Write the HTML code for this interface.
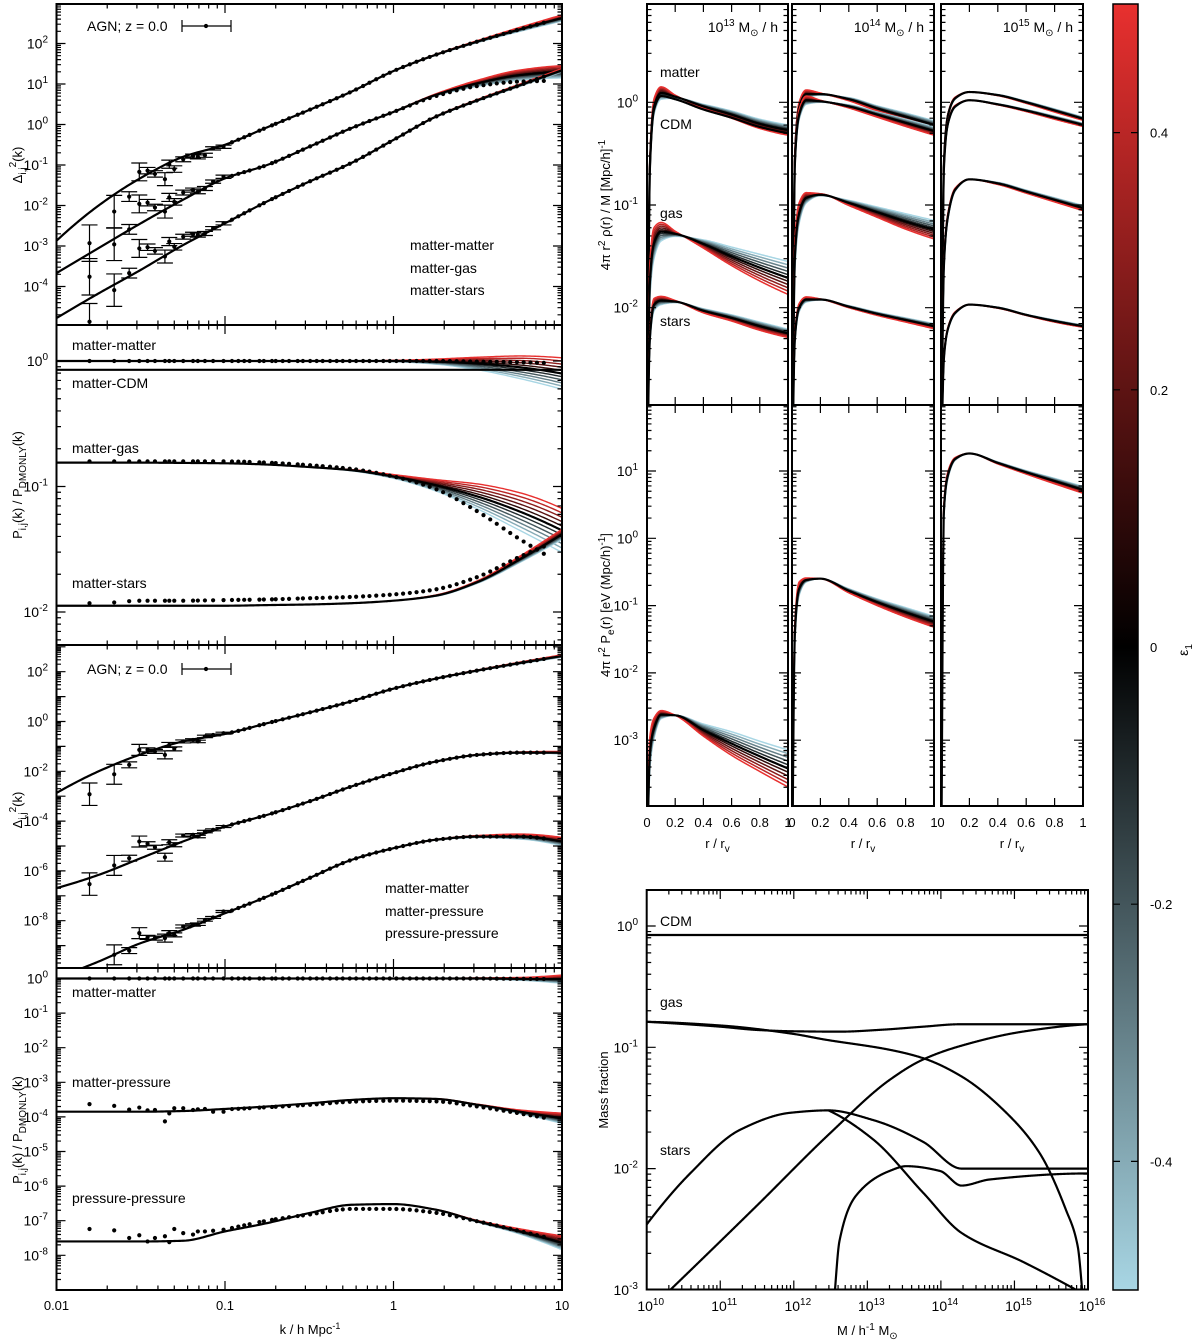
<!DOCTYPE html>
<html><head><meta charset="utf-8"><title>Halo model response</title>
<style>
html,body{margin:0;padding:0;background:#fff;}
svg{display:block;font-family:"Liberation Sans",Arial,sans-serif;}
</style></head>
<body>
<svg id="chart" xmlns="http://www.w3.org/2000/svg" width="1200" height="1340" viewBox="0 0 1200 1340">
<defs>
<linearGradient id="cbgrad" x1="0" y1="0" x2="0" y2="1">
<stop offset="0" stop-color="#e8302f"/><stop offset="0.5" stop-color="#000"/><stop offset="1" stop-color="#a8d6e4"/>
</linearGradient>
</defs>
</svg>
<script>
// ---------------- DATA ----------------
const eps = [-0.5,-0.4,-0.3,-0.2,-0.1,0.1,0.2,0.3,0.4,0.5];
const kGrid = [-2,-1.75,-1.5,-1.25,-1,-0.75,-0.5,-0.25,0,0.25,0.5,0.75,1];
// panel 1: log10 Delta^2
const mm1 = [-2.87,-2.0,-1.32,-0.80,-0.5,-0.07,0.36,0.81,1.32,1.72,2.05,2.35,2.63];
const mm1S = [0,0,0,0,0,0,0,0,0,0.02,0.05,0.1,0.15];
const mg1 = [-3.67,-3.05,-2.44,-1.86,-1.33,-1.0,-0.55,-0.09,0.31,0.73,1.02,1.22,1.3];
const mg1S = [0,0,0,0,0,0,0,0,0.01,0.05,0.15,0.25,0.3];
const mg1Dots = [-3.67,-3.05,-2.44,-1.86,-1.33,-1.0,-0.55,-0.09,0.31,0.70,0.95,1.06,1.08];
const ms1 = [-4.78,-4.17,-3.59,-2.98,-2.44,-1.9,-1.41,-0.95,-0.38,0.19,0.6,0.97,1.34];
const ms1S = [0,0,0,0,0,0,0,0,0,0.02,0.04,0.06,0.08];
// panel 2: log10 ratio
const rmm2 = [0,0,0,0,0,0,0,0,0,-0.005,-0.02,-0.05,-0.1];
const rmm2S = [0,0,0,0,0,0,0,0,0.01,0.04,0.1,0.18,0.25];
const rcdm2 = [-0.07,-0.07,-0.07,-0.07,-0.07,-0.07,-0.07,-0.07,-0.07,-0.07,-0.07,-0.07,-0.07];
const rgas2 = [-0.81,-0.81,-0.81,-0.812,-0.815,-0.825,-0.845,-0.87,-0.92,-0.99,-1.08,-1.2,-1.35];
const rgas2S = [0,0,0,0,0,0,0,0.01,0.03,0.09,0.2,0.3,0.35];
const rgas2Dots = [-0.80,-0.80,-0.80,-0.80,-0.80,-0.81,-0.83,-0.86,-0.92,-1.02,-1.2,-1.42,-1.62];
const rst2 = [-1.95,-1.95,-1.95,-1.95,-1.95,-1.945,-1.94,-1.93,-1.91,-1.87,-1.76,-1.58,-1.38];
const rst2S = [0,0,0,0,0,0,0,0,0,0.01,0.02,0.05,0.08];
const rst2Dots = [-1.93,-1.93,-1.91,-1.91,-1.905,-1.9,-1.89,-1.88,-1.86,-1.82,-1.72,-1.56,-1.42];
const rmm2Dots = [0,0,0,0,0,0,0,0,0,0,-0.005,-0.01,-0.02];
// panel 3
const mm3 = [-2.87,-2.0,-1.32,-0.80,-0.5,-0.07,0.36,0.81,1.32,1.72,2.05,2.35,2.63];
const mm3S = [0,0,0,0,0,0,0,0,0,0.02,0.04,0.07,0.1];
const mp3 = [-6.69,-6.16,-5.49,-4.82,-4.22,-3.75,-3.21,-2.61,-2.07,-1.61,-1.34,-1.25,-1.25];
const mp3S = [0,0,0,0,0,0,0,0,0,0.01,0.02,0.05,0.1];
const pp3 = [-10.3,-9.64,-8.9,-8.37,-7.7,-7.03,-6.29,-5.56,-5.09,-4.75,-4.62,-4.62,-4.82];
const pp3S = [0,0,0,0,0,0,0,0,0,0.02,0.08,0.2,0.33];
// panel 4
const rmm4 = [0,0,0,0,0,0,0,0,0,0,0,-0.01,-0.02];
const rmm4S = [0,0,0,0,0,0,0,0,0,0.01,0.03,0.08,0.24];
const rmp4 = [-3.85,-3.85,-3.85,-3.83,-3.77,-3.70,-3.61,-3.51,-3.46,-3.48,-3.65,-3.85,-4.04];
const rmp4S = [0,0,0,0,0,0,0,0,0,0.01,0.03,0.1,0.3];
const rmp4Dots = [-3.75,-3.78,-3.8,-3.8,-3.78,-3.72,-3.65,-3.56,-3.53,-3.55,-3.7,-3.9,-4.12];
const rpp4 = [-7.6,-7.6,-7.6,-7.58,-7.31,-7.07,-6.78,-6.54,-6.52,-6.68,-7.02,-7.31,-7.64];
const rpp4S = [0,0,0,0,0,0,0,0,0,0.01,0.05,0.15,0.4];
const rpp4Dots = [-7.3,-7.35,-7.4,-7.45,-7.25,-7.0,-6.82,-6.66,-6.66,-6.77,-7.02,-7.3,-7.6];
// measured points (low k) with scatter
const lowK = [0.0157,0.022,0.027,0.031,0.0347,0.0384,0.044,0.0467,0.05,0.0565,0.0646,0.069,0.076,0.085,0.098];
const lowErr = [0.45,0.4,0.12,0.22,0.08,0.08,0.16,0.1,0.08,0.06,0.05,0.05,0.05,0.04,0.04];
const mm1Low = [-2.93,-2.15,-1.78,-1.17,-1.14,-1.22,-1.35,-0.98,-1.10,-0.86,-0.78,-0.80,-0.76,-0.59,-0.55];
const mg1Low = [-3.76,-2.96,-2.59,-1.96,-1.93,-2.05,-2.15,-1.80,-1.91,-1.68,-1.62,-1.66,-1.58,-1.41,-1.29];
const ms1Low = [-4.87,-4.09,-3.67,-3.06,-3.03,-3.12,-3.26,-2.89,-3.02,-2.77,-2.71,-2.73,-2.69,-2.56,-2.44];
const mm3Low = [-2.92,-2.12,-1.74,-1.14,-1.14,-1.2,-1.34,-0.94,-1.10,-0.80,-0.74,-0.80,-0.60,-0.54,-0.47];
const mp3Low = [-6.53,-5.78,-5.49,-4.82,-4.91,-5.05,-5.45,-4.85,-4.95,-4.58,-4.55,-4.62,-4.42,-4.35,-4.22];
const pp3Low = [-10.5,-9.37,-9.2,-8.5,-8.67,-8.7,-8.7,-8.5,-8.57,-8.23,-8.17,-8.14,-7.97,-7.87,-7.63];
const mp4Low = [-3.63,-3.68,-3.79,-3.73,-3.81,-3.8,-4.13,-3.9,-3.75,-3.75,-3.80,-3.78,-3.77,-3.85,-3.85];
const pp4Low = [-7.24,-7.28,-7.5,-7.42,-7.6,-7.5,-7.45,-7.62,-7.24,-7.36,-7.4,-7.31,-7.31,-7.29,-7.26];
const denseK = [0.11,0.12,0.13,0.14,0.16,0.17,0.19,0.2,0.22,0.24,0.27,0.29,0.32,0.35,0.38,0.42,0.46,0.5,0.55,0.6,0.66,0.72,0.79,0.87,0.95,1.04,1.14,1.25,1.37,1.5,1.64,1.8,1.97,2.16,2.37,2.6,2.85,3.12,3.42,3.75,4.1,4.5,4.93,5.4,5.92,6.5,7.1,7.8];
// profiles
const rGrid = [0.003,0.02,0.05,0.1,0.2,0.4,0.6,0.8,1.0];
const matterA = [-3.3,-0.63,-0.04,0.09,0.055,-0.04,-0.12,-0.21,-0.27];
const matterAS = [0.1,0.15,0.15,0.12,0.03,-0.04,-0.07,-0.09,-0.1];
const cdmA = [-3.3,-0.66,-0.07,0.06,0.03,-0.07,-0.15,-0.24,-0.3];
const gasA = [-3.5,-1.75,-1.37,-1.26,-1.28,-1.38,-1.5,-1.61,-1.71];
const gasAS = [0.3,0.35,0.3,0.18,0.05,-0.08,-0.18,-0.26,-0.32];
const starsA = [-3.5,-2.3,-1.97,-1.93,-1.94,-2.03,-2.1,-2.18,-2.25];
const starsAS = [0.1,0.12,0.12,0.08,0.02,-0.04,-0.06,-0.08,-0.08];
const matterB = [-3.3,-0.55,-0.05,0.08,0.08,0.03,-0.06,-0.14,-0.22];
const matterBS = [0.1,0.12,0.1,0.08,0.02,-0.03,-0.05,-0.07,-0.08];
const cdmB = [-3.3,-0.6,-0.12,0.02,0.01,-0.04,-0.12,-0.2,-0.28];
const gasB = [-3.5,-1.5,-1.08,-0.93,-0.9,-0.98,-1.07,-1.16,-1.24];
const gasBS = [0.3,0.3,0.2,0.1,0.02,-0.05,-0.1,-0.15,-0.18];
const starsB = [-3.5,-2.3,-2.0,-1.92,-1.92,-1.99,-2.06,-2.12,-2.18];
const starsBS = [0.1,0.1,0.08,0.05,0.01,-0.02,-0.03,-0.04,-0.05];
const matterC = [-3.3,-0.6,-0.12,0.04,0.1,0.07,0.0,-0.08,-0.16];
const matterCS = [0.05,0.05,0.03,0.02,0,-0.01,-0.02,-0.03,-0.03];
const cdmC = [-3.3,-0.65,-0.2,-0.04,0.02,-0.02,-0.08,-0.15,-0.22];
const gasC = [-3.5,-1.6,-1.1,-0.85,-0.75,-0.79,-0.87,-0.95,-1.03];
const gasCS = [0.1,0.1,0.06,0.03,0,-0.02,-0.03,-0.04,-0.05];
const starsC = [-3.5,-2.5,-2.2,-2.05,-1.97,-2.0,-2.07,-2.13,-2.18];
const starsCS = [0.05,0.04,0.03,0.02,0,-0.01,-0.01,-0.02,-0.02];
const presA = [-4.6,-3.2,-2.82,-2.62,-2.63,-2.85,-3.05,-3.24,-3.42];
const presAS = [0.6,0.5,0.3,0.12,0,-0.18,-0.35,-0.45,-0.55];
const presB = [-4.6,-1.4,-0.75,-0.62,-0.6,-0.78,-0.95,-1.1,-1.24];
const presBS = [0.4,0.3,0.2,0.06,0,-0.06,-0.1,-0.14,-0.16];
const presC = [-4.6,0.4,0.95,1.18,1.26,1.12,0.98,0.85,0.72];
const presCS = [0.3,0.2,0.1,0.04,0,-0.03,-0.05,-0.08,-0.1];
// mass fractions (log10 M, log10 f)
const cdmFracM = [10,16], cdmFrac = [-0.074,-0.074];
const gasBoundM = [10,11,11.5,12,12.63,13.2,13.76,14.26,16];
const gasBound = [-0.79,-0.83,-0.857,-0.868,-0.871,-0.855,-0.83,-0.81,-0.81];
const gasHotM = [10,11,12,12.4,13.3,13.76,14.28,14.89,15.34,15.7,15.86,15.92];
const gasHot = [-0.79,-0.82,-0.89,-0.934,-1.02,-1.09,-1.24,-1.54,-1.87,-2.34,-2.64,-3.0];
const gasEjM = [10.32,11.49,12.49,13.3,13.76,14.26,15.12,16];
const gasEj = [-3.0,-2.31,-1.71,-1.27,-1.10,-0.99,-0.87,-0.81];
const starTotM = [10,10.59,11.27,11.95,12.47,13.08,13.76,14.28,16];
const starTot = [-2.46,-2.04,-1.68,-1.54,-1.52,-1.60,-1.78,-2.0,-2.0];
const starCenM = [12.47,13.08,13.76,14.28,15.12,15.84];
const starCen = [-1.52,-1.76,-2.2,-2.53,-2.77,-3.0];
const starSatM = [12.56,12.62,12.85,13.3,13.53,13.99,14.28,14.66,16];
const starSat = [-3.0,-2.6,-2.22,-2.02,-1.98,-2.02,-2.14,-2.09,-2.04];
const cbTicks = [0.4,0.2,0,-0.2,-0.4];

// ---------------- HELPERS ----------------
const NS='http://www.w3.org/2000/svg';
const svg=document.getElementById('chart');
function mk(tag, attrs, parent){const e=document.createElementNS(NS,tag);for(const k in attrs)e.setAttribute(k,attrs[k]);(parent||svg).appendChild(e);return e;}
function mono(xs, ys){
  const n=xs.length,d=[],h=[],m=new Array(n);
  for(let i=0;i<n-1;i++){h[i]=xs[i+1]-xs[i];d[i]=(ys[i+1]-ys[i])/h[i];}
  if(n===2){m[0]=d[0];m[1]=d[0];}
  else{
    for(let i=1;i<n-1;i++){
      if(d[i-1]*d[i]<=0)m[i]=0;
      else{const w1=2*h[i]+h[i-1],w2=h[i]+2*h[i-1];m[i]=(w1+w2)/(w1/d[i-1]+w2/d[i]);}
    }
    const e0=((2*h[0]+h[1])*d[0]-h[0]*d[1])/(h[0]+h[1]);
    m[0]=(Math.sign(e0)!==Math.sign(d[0]))?0:(Math.abs(e0)>3*Math.abs(d[0])?3*d[0]:e0);
    const k=n-2;
    const e1=((2*h[k]+h[k-1])*d[k]-h[k]*d[k-1])/(h[k]+h[k-1]);
    m[n-1]=(Math.sign(e1)!==Math.sign(d[k]))?0:(Math.abs(e1)>3*Math.abs(d[k])?3*d[k]:e1);
  }
  return function(x){
    let i=0; if(x<=xs[0])i=0; else if(x>=xs[n-1])i=n-2; else while(x>xs[i+1])i++;
    const hh=xs[i+1]-xs[i],t=(x-xs[i])/hh,t2=t*t,t3=t2*t;
    return (2*t3-3*t2+1)*ys[i]+(t3-2*t2+t)*hh*m[i]+(-2*t3+3*t2)*ys[i+1]+(t3-t2)*hh*m[i+1];
  };
}
function col(e){
  if(e>=0){const t=e/0.5;return `rgb(${Math.round(232*t)},${Math.round(48*t)},${Math.round(47*t)})`;}
  const t=-e/0.5;return `rgb(${Math.round(168*t)},${Math.round(214*t)},${Math.round(228*t)})`;
}
function supLabel(parent,x,y,exp,anchor,size){
  const t=mk('text',{x:x,y:y,'text-anchor':anchor,'font-size':size||14,fill:'#000'},parent);
  
  
  t.appendChild(document.createTextNode('10'));
  const s=mk('tspan',{dy:-6,'font-size':10},t);
  s.textContent=String(exp);
  return t;
}
let clipId=0;
function makeClip(x0,y0,x1,y1){
  const id='clip'+(clipId++);
  const cp=mk('clipPath',{id:id},svg.querySelector('defs'));
  mk('rect',{x:x0,y:y0,width:x1-x0,height:y1-y0},cp);
  return id;
}
function linePath(pts){return pts.map((p,i)=>(i?'L':'M')+p[0].toFixed(2)+','+p[1].toFixed(2)).join('');}
function logTicksY(g,x0,x1,yOf,lmin,lmax){
  for(let d=Math.floor(lmin)-1;d<=Math.ceil(lmax);d++){
    for(let m=1;m<=9;m++){
      const v=d+Math.log10(m); if(v<lmin||v>lmax)continue;
      const y=yOf(v),L=(m===1)?9:4.5;
      const t=mk('path',{d:`M${x0},${y}h${L}M${x1},${y}h${-L}`,stroke:'#000','stroke-width':1.2},g);
      
      
    }
  }
}
function logTicksX(g,y0,y1,xOf,lmin,lmax){
  for(let d=Math.floor(lmin);d<=Math.ceil(lmax);d++){
    for(let m=1;m<=9;m++){
      const v=d+Math.log10(m); if(v<lmin-1e-9||v>lmax+1e-9)continue;
      const x=xOf(v),L=(m===1)?9:4.5;
      const t=mk('path',{d:`M${x},${y0}v${L}M${x},${y1}v${-L}`,stroke:'#000','stroke-width':1.2},g);
      
      
    }
  }
}
function frame(g,x0,y0,x1,y1,name){
  const r=mk('rect',{x:x0,y:y0,width:x1-x0,height:y1-y0,fill:'none',stroke:'#000','stroke-width':2},g);
  
  
}
function label(parent,x,y,txt,size,anchor,name){
  const t=mk('text',{x:x,y:y,'font-size':size||14,'text-anchor':anchor||'start',fill:'#000'},parent);
  
  
  t.textContent=txt; return t;
}

// ---------------- LEFT COLUMN ----------------
const LX0=56.5, LX1=562;
const xK = lk => LX0+(lk+2)*168.5;
const left = [
 {name:'delta-panel-1',top:4,bot:325,y0:124.5,ppd:40.5,exps:[2,1,0,-1,-2,-3,-4]},
 {name:'ratio-panel-1',top:325,bot:645,y0:361,ppd:125.5,exps:[0,-1,-2]},
 {name:'delta-panel-2',top:645,bot:968,y0:721.5,ppd:24.9,exps:[2,0,-2,-4,-6,-8]},
 {name:'ratio-panel-2',top:968,bot:1290,y0:978.5,ppd:34.6,exps:[0,-1,-2,-3,-4,-5,-6,-7,-8]}
];
left.forEach(P=>{
  P.yOf = v => P.y0 - v*P.ppd;
  P.lmax=(P.y0-P.top)/P.ppd; P.lmin=(P.y0-P.bot)/P.ppd;
  P.g=mk('g',{});
  
  
  P.clip=makeClip(LX0,P.top,LX1,P.bot);
  P.plot=mk('g',{'clip-path':`url(#${P.clip})`},P.g);
  
  
});
const kSamples=[]; for(let v=-2;v<=1.0001;v+=0.01)kSamples.push(v);
function familyK(P,black,spread,name){
  const g=mk('g',{},P.plot);
  
  
  eps.forEach(e=>{
    const f=mono(kGrid,black.map((v,i)=>v+e*spread[i]));
    const p=mk('path',{d:linePath(kSamples.map(l=>[xK(l),P.yOf(f(l))])),fill:'none',stroke:col(e),'stroke-width':1.4},g);
    
    
  });
  const f=mono(kGrid,black);
  const p=mk('path',{d:linePath(kSamples.map(l=>[xK(l),P.yOf(f(l))])),fill:'none',stroke:'#000','stroke-width':2.2},g);
  
  
}
function dots(P,vals,name,low,err){
  const g=mk('g',{},P.plot);
  
  
  const f=mono(kGrid,vals);
  const put=(k,v,e)=>{
    const x=xK(Math.log10(k)),y=P.yOf(v);
    if(e){
      const ya=P.yOf(v+e),yb=P.yOf(v-e);
      const b=mk('path',{d:`M${x},${ya}V${yb}M${x-8},${ya}h16M${x-8},${yb}h16`,stroke:'#000','stroke-width':1.2,fill:'none'},g);
      
      
    }
    const c=mk('circle',{cx:x,cy:y,r:2.1,fill:'#000'},g);
    
    
  };
  lowK.forEach((k,i)=>put(k, low?low[i]:f(Math.log10(k)), err?err[i]:0));
  denseK.forEach(k=>put(k,f(Math.log10(k)),0));
}
// panel 1
familyK(left[0],mm1,mm1S,'matter-matter');
familyK(left[0],mg1,mg1S,'matter-gas');
familyK(left[0],ms1,ms1S,'matter-stars');
dots(left[0],mm1,'matter-matter',mm1Low,lowErr);
dots(left[0],mg1Dots,'matter-gas',mg1Low,lowErr);
dots(left[0],ms1,'matter-stars',ms1Low,lowErr);
// panel 2
familyK(left[1],rmm2,rmm2S,'matter-matter-ratio');
familyK(left[1],rcdm2,rcdm2.map(()=>0),'matter-cdm-ratio');
familyK(left[1],rgas2,rgas2S,'matter-gas-ratio');
familyK(left[1],rst2,rst2S,'matter-stars-ratio');
dots(left[1],rmm2Dots,'matter-matter-ratio');
dots(left[1],rgas2Dots,'matter-gas-ratio');
dots(left[1],rst2Dots,'matter-stars-ratio');
// panel 3
familyK(left[2],mm3,mm3S,'matter-matter');
familyK(left[2],mp3,mp3S,'matter-pressure');
familyK(left[2],pp3,pp3S,'pressure-pressure');
dots(left[2],mm3,'matter-matter',mm3Low,lowErr);
dots(left[2],mp3,'matter-pressure',mp3Low,lowErr);
dots(left[2],pp3,'pressure-pressure',pp3Low,lowErr);
// panel 4
familyK(left[3],rmm4,rmm4S,'matter-matter-ratio');
familyK(left[3],rmp4,rmp4S,'matter-pressure-ratio');
familyK(left[3],rpp4,rpp4S,'pressure-pressure-ratio');
dots(left[3],rmm4,'matter-matter-ratio');
dots(left[3],rmp4Dots,'matter-pressure-ratio',mp4Low);
dots(left[3],rpp4Dots,'pressure-pressure-ratio',pp4Low);
// axes
left.forEach(P=>{
  logTicksY(P.g,LX0,LX1,P.yOf,P.lmin,P.lmax);
  logTicksX(P.g,P.top,P.bot,xK,-2,1);
  frame(P.g,LX0,P.top,LX1,P.bot,'panel-frame');
  P.exps.forEach(e=>supLabel(P.g,48,P.yOf(e)+5,e,'end'));
});
[['0.01',-2],['0.1',-1],['1',0],['10',1]].forEach(([t,v])=>label(svg,xK(v),1310,t,13,'middle','x-tick-label'));
{
  const t=label(svg,310,1334,'k / h Mpc',13,'middle','x-axis-title');
  const s=mk('tspan',{dy:-5,'font-size':9},t); s.textContent='-1';
}
function deltaTitle(y){
  const t=mk('text',{transform:`translate(22,${y}) rotate(-90)`,'text-anchor':'middle','font-size':13});
  
  
  t.appendChild(document.createTextNode('Δ'));
  const a=mk('tspan',{dy:4,'font-size':10},t);a.textContent='i,j';
  const b=mk('tspan',{dy:-10,'font-size':10},t);b.textContent='2';
  const c=mk('tspan',{dy:6},t);c.textContent='(k)';
}
function ratioTitle(y){
  const t=mk('text',{transform:`translate(22,${y}) rotate(-90)`,'text-anchor':'middle','font-size':13});
  
  
  t.appendChild(document.createTextNode('P'));
  const a=mk('tspan',{dy:4,'font-size':10},t);a.textContent='i,j';
  const b=mk('tspan',{dy:-4},t);b.textContent='(k) / P';
  const c=mk('tspan',{dy:4,'font-size':10},t);c.textContent='DMONLY';
  const d=mk('tspan',{dy:-4},t);d.textContent='(k)';
}
deltaTitle(165); ratioTitle(485); deltaTitle(810); ratioTitle(1130);
function agnLegend(y){
  const g=mk('g',{});
  
  
  label(g,87,y+5,'AGN; z = 0.0',14,'start','legend-label');
  const p=mk('path',{d:`M182,${y}H231M182,${y-6}v12M231,${y-6}v12`,stroke:'#000','stroke-width':1.2},g);
  
  
  const c=mk('circle',{cx:206,cy:y,r:2.1},g);
  
  
}
agnLegend(26); agnLegend(669);
label(svg,410,250,'matter-matter',14,'start','series-label');
label(svg,410,273,'matter-gas',14,'start','series-label');
label(svg,410,295,'matter-stars',14,'start','series-label');
label(svg,72,350,'matter-matter',14,'start','series-label');
label(svg,72,388,'matter-CDM',14,'start','series-label');
label(svg,72,453,'matter-gas',14,'start','series-label');
label(svg,72,588,'matter-stars',14,'start','series-label');
label(svg,385,893,'matter-matter',14,'start','series-label');
label(svg,385,916,'matter-pressure',14,'start','series-label');
label(svg,385,938,'pressure-pressure',14,'start','series-label');
label(svg,72,997,'matter-matter',14,'start','series-label');
label(svg,72,1087,'matter-pressure',14,'start','series-label');
label(svg,72,1203,'pressure-pressure',14,'start','series-label');

// ---------------- RIGHT PROFILE PANELS ----------------
const cols=[[647,788],[792,934],[941,1083]];
const upper={top:4,bot:405,yOf:v=>102.3-102.7*v,exps:[0,-1,-2]};
const lower={top:405,bot:806,yOf:v=>538.3-67.3*v,exps:[1,0,-1,-2,-3]};
[upper,lower].forEach(R=>{R.lmax=(R===upper?(102.3-R.top)/102.7:(538.3-R.top)/67.3);R.lmin=(R===upper?(102.3-R.bot)/102.7:(538.3-R.bot)/67.3);});
const rSamples=[]; for(let r=0.003;r<=1.0001;r+=0.004)rSamples.push(r);
function familyR(R,c,black,spread,name){
  const [x0,x1]=c, g=R.plots[cols.indexOf(c)];
  const xr=r=>x0+r*(x1-x0);
  const gg=mk('g',{},g);
  
  
  if(spread) eps.forEach(e=>{
    const f=mono(rGrid,black.map((v,i)=>v+e*spread[i]));
    const p=mk('path',{d:linePath(rSamples.map(r=>[xr(r),R.yOf(f(r))])),fill:'none',stroke:col(e),'stroke-width':1.5},gg);
    
    
  });
  const f=mono(rGrid,black);
  const p=mk('path',{d:linePath(rSamples.map(r=>[xr(r),R.yOf(f(r))])),fill:'none',stroke:'#000','stroke-width':2.2},gg);
  
  
}
[upper,lower].forEach((R,ri)=>{
  R.plots=cols.map((c,ci)=>{
    const id=makeClip(c[0],R.top,c[1],R.bot);
    const g=mk('g',{'clip-path':`url(#${id})`});
    
    
    return g;
  });
});
familyR(upper,cols[0],matterA,matterAS,'matter');
familyR(upper,cols[0],cdmA,null,'cdm');
familyR(upper,cols[0],gasA,gasAS,'gas');
familyR(upper,cols[0],starsA,starsAS,'stars');
familyR(upper,cols[1],matterB,matterBS,'matter');
familyR(upper,cols[1],cdmB,matterBS,'cdm');
familyR(upper,cols[1],gasB,gasBS,'gas');
familyR(upper,cols[1],starsB,starsBS,'stars');
familyR(upper,cols[2],matterC,matterCS,'matter');
familyR(upper,cols[2],cdmC,matterCS,'cdm');
familyR(upper,cols[2],gasC,gasCS,'gas');
familyR(upper,cols[2],starsC,starsCS,'stars');
familyR(lower,cols[0],presA,presAS,'pressure');
familyR(lower,cols[1],presB,presBS,'pressure');
familyR(lower,cols[2],presC,presCS,'pressure');
[upper,lower].forEach(R=>{
  const g=mk('g',{});
  
  
  cols.forEach(([x0,x1])=>{
    logTicksY(g,x0,x1,R.yOf,R.lmin,R.lmax);
    for(let r=0;r<=1.0001;r+=0.2){
      const x=x0+r*(x1-x0);
      const t=mk('path',{d:`M${x},${R.top}v8M${x},${R.bot}v-8`,stroke:'#000','stroke-width':1.2},g);
      
      
    }
    frame(g,x0,R.top,x1,R.bot,'panel-frame');
  });
  R.exps.forEach(e=>supLabel(g,638,R.yOf(e)+5,e,'end'));
});
cols.forEach(([x0,x1])=>{
  ['0','0.2','0.4','0.6','0.8','1'].forEach((t,i)=>label(svg,x0+i*0.2*(x1-x0),827,t,13,'middle','x-tick-label'));
  const t=label(svg,(x0+x1)/2,848,'r / r',13,'middle','x-axis-title');
  const s=mk('tspan',{dy:4,'font-size':10},t);s.textContent='v';
});
[['13',cols[0]],['14',cols[1]],['15',cols[2]]].forEach(([e,c])=>{
  const t=mk('text',{x:c[1]-10,y:32,'text-anchor':'end','font-size':14});
  
  
  t.appendChild(document.createTextNode('10'));
  const a=mk('tspan',{dy:-6,'font-size':10},t);a.textContent=e;
  const b=mk('tspan',{dy:6},t);b.textContent=' M';
  const d=mk('tspan',{dy:4,'font-size':10},t);d.textContent='⊙';
  const f=mk('tspan',{dy:-4},t);f.textContent=' / h';
});
label(svg,660,77,'matter',14,'start','series-label');
label(svg,660,129,'CDM',14,'start','series-label');
label(svg,660,218,'gas',14,'start','series-label');
label(svg,660,326,'stars',14,'start','series-label');
{
  const t=mk('text',{transform:'translate(610,205) rotate(-90)','text-anchor':'middle','font-size':13});
  
  
  t.appendChild(document.createTextNode('4π r'));
  const a=mk('tspan',{dy:-5,'font-size':10},t);a.textContent='2';
  const b=mk('tspan',{dy:5},t);b.textContent=' ρ(r) / M [Mpc/h]';
  const c=mk('tspan',{dy:-5,'font-size':10},t);c.textContent='-1';
  const t2=mk('text',{transform:'translate(610,605) rotate(-90)','text-anchor':'middle','font-size':13});
  
  
  t2.appendChild(document.createTextNode('4π r'));
  const d=mk('tspan',{dy:-5,'font-size':10},t2);d.textContent='2';
  const e=mk('tspan',{dy:5},t2);e.textContent=' P';
  const f=mk('tspan',{dy:4,'font-size':10},t2);f.textContent='e';
  const h=mk('tspan',{dy:-4},t2);h.textContent='(r) [eV (Mpc/h)';
  const i=mk('tspan',{dy:-5,'font-size':10},t2);i.textContent='-1';
  const j=mk('tspan',{dy:5},t2);j.textContent=']';
}

// ---------------- MASS FRACTION ----------------
const MX0=646.7, MX1=1088, MY0=890, MY1=1289.5;
const xM=l=>MX0+(l-10)*73.55, yF=v=>926-121.3*v;
{
  const g=mk('g',{});
  
  
  const id=makeClip(MX0,MY0,MX1,MY1);
  const pg=mk('g',{'clip-path':`url(#${id})`},g);
  
  
  const curves=[[cdmFracM,cdmFrac,'cdm-fraction'],[gasBoundM,gasBound,'bound-gas-fraction'],[gasHotM,gasHot,'hot-gas-fraction'],[gasEjM,gasEj,'ejected-gas-fraction'],[starTotM,starTot,'total-stars-fraction'],[starCenM,starCen,'central-stars-fraction'],[starSatM,starSat,'satellite-stars-fraction']];
  curves.forEach(([ms,fs,name])=>{
    const f=mono(ms,fs),pts=[];
    for(let l=ms[0];l<=ms[ms.length-1]+1e-9;l+=0.005)pts.push([xM(l),yF(f(l))]);
    const p=mk('path',{d:linePath(pts),fill:'none',stroke:'#000','stroke-width':2.2},pg);
    
    
  });
  logTicksY(g,MX0,MX1,yF,-3,0.297);
  logTicksX(g,MY0,MY1,xM,10,16);
  frame(g,MX0,MY0,MX1,MY1,'panel-frame');
  [0,-1,-2,-3].forEach(e=>supLabel(g,638,yF(e)+5,e,'end'));
  [10,11,12,13,14,15,16].forEach(e=>supLabel(g,xM(e)+4,1311,e,'middle'));
  label(g,660,926,'CDM',14,'start','series-label');
  label(g,660,1007,'gas',14,'start','series-label');
  label(g,660,1155,'stars',14,'start','series-label');
  const t=label(g,(MX0+MX1)/2,1335,'M / h',13,'middle','x-axis-title');
  const a=mk('tspan',{dy:-5,'font-size':10},t);a.textContent='-1';
  const b=mk('tspan',{dy:5},t);b.textContent=' M';
  const c=mk('tspan',{dy:4,'font-size':10},t);c.textContent='⊙';
  const yt=mk('text',{transform:'translate(608,1090) rotate(-90)','text-anchor':'middle','font-size':13},g);
  
  
  yt.textContent='Mass fraction';
}

// ---------------- COLORBAR ----------------
{
  const CX0=1113,CX1=1138,CY0=4,CY1=1290;
  const yE=e=>CY0+(0.5-e)*(CY1-CY0);
  const g=mk('g',{});
  
  
  const r=mk('rect',{x:CX0,y:CY0,width:CX1-CX0,height:CY1-CY0,fill:'url(#cbgrad)',stroke:'#000','stroke-width':1.5},g);
  
  
  cbTicks.forEach(e=>{
    const y=yE(e);
    const t=mk('path',{d:`M${CX0},${y}h7M${CX1},${y}h-7`,stroke:'#000','stroke-width':1.2},g);
    
    
    label(g,1150,y+5,String(e),13,'start','colorbar-tick-label');
  });
  const t=mk('text',{transform:'translate(1188,650) rotate(-90)','text-anchor':'middle','font-size':14},g);
  
  
  t.appendChild(document.createTextNode('ε'));
  const s=mk('tspan',{dy:4,'font-size':10},t);s.textContent='1';
}
</script>
</body></html>
